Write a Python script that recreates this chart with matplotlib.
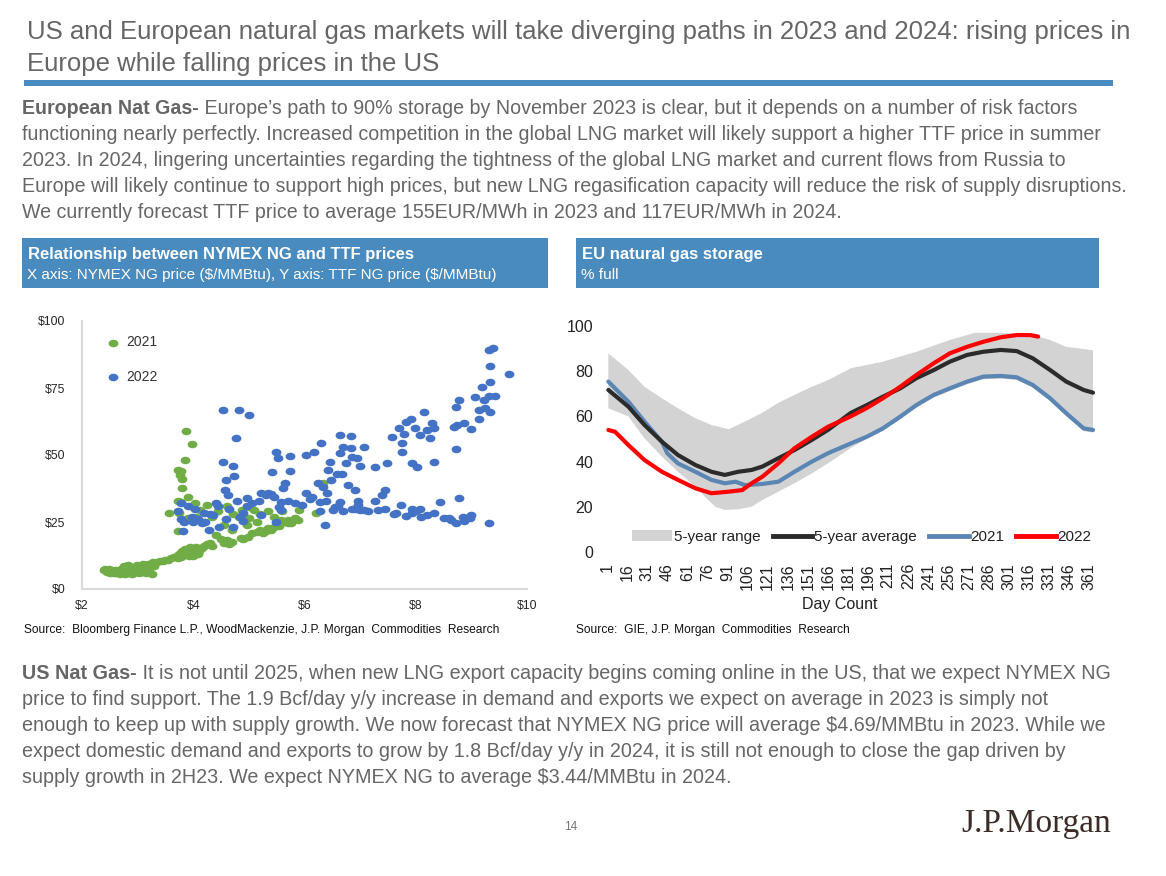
import matplotlib
matplotlib.use("Agg")
import matplotlib.pyplot as plt
from matplotlib import font_manager
from matplotlib.patches import Rectangle, Patch
from matplotlib.lines import Line2D
from matplotlib.path import Path
import numpy as np

# ---------------- data ----------------
green_x = [2.40, 2.42, 2.45, 2.48, 2.50, 2.52, 2.55, 2.58, 2.60, 2.62, 2.65, 2.68, 2.70, 2.72, 2.75, 2.78,
           2.80, 2.82, 2.85, 2.88, 2.90, 2.92, 2.95, 2.98, 3.00, 3.02, 3.05, 3.08, 3.10, 3.12, 3.15, 3.18,
           3.20, 3.25, 3.28, 3.30,
           3.35, 3.40, 3.45, 3.50, 3.55, 3.60, 3.65, 3.70, 3.72, 3.75, 3.78, 3.80, 3.82, 3.85, 3.88, 3.90,
           3.92, 3.95, 3.98, 4.00, 4.02, 4.05, 4.08, 4.10, 4.15, 4.20, 4.25, 4.30, 4.33,
           4.50, 4.55, 4.60, 4.65, 4.70, 4.85, 4.90, 4.98, 5.05, 5.14, 5.20, 5.25, 5.30, 5.35, 5.40, 5.45,
           5.50, 5.55, 5.65, 5.71, 5.75, 5.83, 5.88,
           3.87, 3.97, 3.85, 3.72, 3.78, 3.76, 3.80, 3.80, 3.90, 3.72, 3.78, 3.57, 3.74, 3.72, 3.95, 4.03,
           4.12, 4.25, 4.34, 4.45, 4.60, 4.72, 4.83, 4.96, 4.87, 5.00, 5.10, 5.20, 5.34, 5.46, 5.58, 5.71,
           5.60, 5.90, 6.20, 6.33, 5.00, 5.15, 4.20, 4.05, 3.90, 4.55, 4.70, 4.40]
green_y = [7.0, 7.6, 6.2, 7.3, 6.0, 7.0, 6.5, 5.8, 7.2, 6.0, 6.8, 5.5, 7.5, 6.3, 8.5, 5.6,
           7.0, 8.8, 6.0, 7.8, 5.5, 8.2, 6.5, 9.0, 7.2, 5.8, 8.6, 6.3, 9.2, 7.0, 5.9, 9.5,
           7.5, 5.6, 10.0, 8.5,
           10.2, 10.6, 10.4, 11.0, 10.8, 11.5, 11.8, 12.5, 11.6, 13.0, 12.0, 14.0, 12.8, 15.0, 13.5, 14.5,
           12.2, 15.5, 13.8, 12.5, 14.8, 15.8, 13.0, 14.2, 15.2, 16.0, 16.8, 17.2, 16.0,
           18.5, 17.0, 18.3, 16.8, 17.6, 19.0, 18.6, 19.5, 21.0, 21.4, 22.0, 20.8, 21.5, 22.6, 22.0, 23.0,
           24.0, 23.5, 25.0, 25.7, 24.5, 26.4, 25.8,
           59.0, 54.2, 48.0, 44.5, 44.0, 42.5, 41.0, 37.6, 34.5, 33.0, 32.5, 28.3, 28.5, 21.5, 31.0, 32.0,
           29.5, 31.5, 27.0, 29.0, 31.0, 28.0, 27.0, 24.0, 29.5, 30.5, 29.5, 28.0, 29.0, 27.0, 25.8, 24.6,
           29.0, 29.5, 28.3, 39.7, 26.5, 25.0, 25.0, 27.0, 26.5, 24.0, 22.0, 20.0]

blue_x = [4.53, 4.82, 5.01, 4.76, 4.53, 4.71, 4.73, 4.58, 4.57, 4.62, 4.78, 4.96, 4.40, 3.78, 3.91, 4.03,
          3.72, 3.78, 3.84, 3.97, 4.09, 4.22, 4.28, 3.81, 4.47, 4.59, 4.71, 4.84, 4.96, 5.18, 5.21, 5.34,
          5.46, 5.58, 5.71, 5.83, 6.02, 6.14, 6.27, 6.39, 5.58, 5.49, 5.21, 5.42, 5.52, 5.49, 5.74, 5.74,
          5.65, 5.61, 6.02, 6.17, 6.30, 6.24, 6.33, 6.45, 6.43, 6.48, 6.58, 6.64, 6.70, 6.64, 6.74, 6.68,
          6.83, 6.83, 6.86, 6.95, 6.99, 7.07, 6.79, 6.91, 6.97, 6.97, 6.64, 6.51, 6.27, 6.36, 6.70, 6.85,
          7.07, 7.27, 7.27, 7.48, 7.45, 7.39, 7.33, 7.45, 7.64, 7.73, 7.82, 7.94, 8.07, 7.94, 8.10, 8.32,
          8.43, 8.50, 8.63, 8.72, 8.78, 8.87, 8.97, 9.31, 7.57, 7.70, 7.79, 7.76, 7.76, 7.92, 7.82, 7.98,
          7.94, 8.03, 8.14, 8.07, 8.20, 8.29, 8.32, 8.26, 8.32, 8.72, 8.78, 8.69, 8.75, 8.87, 8.72, 9.00,
          9.06, 9.19, 9.22, 9.13, 9.13, 9.25, 9.34, 9.31, 9.34, 9.34, 9.31, 9.38, 9.68, 9.43,
          4.15, 4.30, 4.45, 4.65, 4.90, 5.05, 5.30, 5.55, 5.95, 6.10, 6.55, 7.15, 7.60, 8.00, 8.20, 8.60,
          8.85, 9.00, 4.00, 4.20, 4.35, 4.90, 5.40, 6.90, 7.00, 6.60, 6.40]
blue_y = [66.7, 66.7, 64.8, 56.2, 47.5, 46.0, 42.3, 40.7, 37.0, 35.0, 33.0, 34.0, 32.0, 32.0, 31.0, 30.0,
          29.0, 26.0, 25.0, 27.0, 26.0, 25.0, 22.0, 21.5, 23.0, 26.0, 23.0, 27.0, 31.0, 33.0, 36.0, 36.0,
          34.5, 32.6, 33.0, 32.0, 36.0, 34.5, 32.6, 33.0, 29.5, 25.0, 27.7, 43.8, 48.8, 51.0, 49.6, 44.0,
          39.5, 37.6, 50.0, 51.0, 54.6, 39.7, 38.0, 47.5, 44.4, 40.7, 43.0, 57.4, 53.0, 50.6, 47.0, 43.0,
          57.0, 52.5, 49.4, 48.8, 46.0, 53.0, 38.8, 37.0, 33.0, 31.4, 32.6, 29.5, 29.0, 24.0, 29.0, 30.0,
          29.3, 33.0, 45.6, 47.0, 37.0, 35.0, 29.5, 29.8, 28.3, 31.4, 27.3, 29.8, 30.0, 28.3, 27.0, 28.3,
          32.6, 26.4, 25.8, 24.6, 33.9, 25.2, 26.4, 24.8, 56.8, 59.9, 58.0, 54.3, 51.2, 63.6, 62.4, 59.9,
          46.9, 45.7, 66.1, 57.4, 59.3, 61.8, 59.9, 56.2, 47.5, 68.0, 70.5, 60.5, 61.2, 61.8, 52.4, 59.6,
          71.7, 75.2, 70.5, 66.7, 63.6, 67.4, 66.1, 72.0, 77.3, 83.2, 89.1, 90.0, 80.1, 72.0,
          24.5, 28.0, 31.0, 30.0, 28.5, 32.0, 35.0, 30.5, 31.5, 33.5, 30.5, 29.0, 28.0, 29.0, 27.5, 26.5,
          27.0, 27.5, 25.0, 28.5, 27.5, 25.5, 35.5, 30.0, 29.5, 31.0, 36.0]

# EU storage (% full) by day count
top_days = [2, 17, 29, 42, 54, 67, 79, 92, 104, 117, 129, 141, 154, 166, 183, 207, 232, 257, 276, 295,
            319, 332, 344, 362, 364]
range_high = [87.9, 80.5, 73.1, 68, 63.6, 59.2, 56.2, 54.3, 57.7, 61.6, 66, 69.5, 73.1, 76, 81.3, 84.2,
              88.6, 93.8, 97, 97, 96, 93.8, 90.8, 89.4, 89.2]
low_days = [2, 17, 29, 42, 54, 67, 74, 82, 89, 99, 109, 117, 129, 141, 154, 166, 183, 195, 207, 220,
            232, 245, 257, 270, 282, 295, 307, 319, 332, 344, 357, 364]
range_low = [63.6, 60, 50.3, 42.2, 35.5, 28.9, 24.5, 20, 18.6, 18.9, 20, 23, 26.7, 30.4, 34.8, 39.2,
             46, 50, 53.5, 58.7, 63.8, 68.3, 71.2, 74.2, 76.4, 76.7, 76.1, 72.7, 66.8, 60.2, 53.5, 52.8]
avg_days = [2, 17, 29, 42, 54, 67, 79, 89, 99, 109, 117, 129, 141, 154, 166, 183, 195, 207, 220, 232,
            245, 257, 270, 282, 295, 307, 319, 332, 344, 357, 364]
avg_5y = [71.7, 64.3, 56.2, 48.8, 42.9, 38.5, 35.5, 34.1, 35.5, 36.3, 37.8, 41.5, 45.1, 49.6, 54, 61.5,
          65, 68.7, 72.4, 76.9, 80.5, 84.2, 87.2, 88.6, 89.4, 88.9, 85.7, 80.5, 75.4, 71.7, 70.5]
days_2021 = [2, 17, 29, 42, 46, 54, 67, 79, 89, 97, 104, 117, 129, 141, 154, 166, 183, 195, 207, 220,
             232, 245, 257, 270, 282, 295, 307, 319, 332, 344, 357, 364]
s2021 = [75.4, 66.5, 57.7, 48.8, 43.7, 39.2, 35.5, 31.9, 30.4, 31.1, 29.6, 30.1, 31.1, 35.5, 40, 43.7,
         48, 51, 54.7, 59.9, 65, 69.5, 72.4, 75.4, 77.6, 77.9, 77.3, 73.9, 68, 61.4, 54.7, 54]
days_2022 = [2, 7, 17, 29, 42, 54, 67, 79, 92, 102, 109, 117, 129, 141, 154, 166, 183, 195, 207, 220,
             232, 245, 257, 270, 282, 295, 307, 317, 323]
s2022 = [54, 53.2, 47.3, 40.7, 35.5, 31.9, 28.2, 26, 26.7, 27.4, 30.4, 33.3, 39.2, 45.9, 51, 55.4, 60,
         63.7, 68, 73.1, 78.3, 83.5, 87.9, 90.8, 93, 95, 96, 96, 95.3]
day_ticks = list(range(1, 362, 15))

scatter_xticks = [2, 4, 6, 8, 10]
scatter_yticks = [0, 25, 50, 75, 100]
storage_yticks = [0, 20, 40, 60, 80, 100]

title_lines = ["US and European natural gas markets will take diverging paths in 2023 and 2024: rising prices in",
               "Europe while falling prices in the US"]
para1 = [("European Nat Gas-", " Europe\u2019s path to 90% storage by November 2023 is clear, but it depends on a number of risk factors"),
         ("", "functioning nearly perfectly. Increased competition in the global LNG market will likely support a higher TTF price in summer"),
         ("", "2023. In 2024, lingering uncertainties regarding the tightness of the global LNG market and current flows from Russia to"),
         ("", "Europe will likely continue to support high prices, but new LNG regasification capacity will reduce the risk of supply disruptions."),
         ("", "We currently forecast TTF price to average 155EUR/MWh in 2023 and 117EUR/MWh in 2024.")]
para2 = [("US Nat Gas-", " It is not until 2025, when new LNG export capacity begins coming online in the US, that we expect NYMEX NG"),
         ("", "price to find support. The 1.9 Bcf/day y/y increase in demand and exports we expect on average in 2023 is simply not"),
         ("", "enough to keep up with supply growth. We now forecast that NYMEX NG price will average \\$4.69/MMBtu in 2023. While we"),
         ("", "expect domestic demand and exports to grow by 1.8 Bcf/day y/y in 2024, it is still not enough to close the gap driven by"),
         ("", "supply growth in 2H23. We expect NYMEX NG to average \\$3.44/MMBtu in 2024.")]

# ---------------- style ----------------
names = {f.name for f in font_manager.fontManager.ttflist}
SANS = ['Liberation Sans', 'DejaVu Sans']
NARROW = ['Liberation Sans Narrow', 'Liberation Sans', 'DejaVu Sans'] if 'Liberation Sans Narrow' in names else SANS
plt.rcParams['font.family'] = SANS

W, H = 1166, 876
fig = plt.figure(figsize=(W / 100, H / 100), dpi=100)
renderer = fig.canvas.get_renderer()

def fx(x): return x / W
def fy(y): return 1 - y / H

GRAY = '#666666'
BLUE_BOX = '#4a8bbf'

# title
for i, t in enumerate(title_lines):
    fig.text(fx(27), fy(39 + 32 * i), t, fontsize=18.55, color=GRAY, va='baseline')

fig.add_artist(Rectangle((fx(24), fy(86)), fx(1113) - fx(24), 6 / H, transform=fig.transFigure,
                         color=BLUE_BOX, lw=0))

def paragraph(lines, x, y0, dy, size):
    for i, (b, r) in enumerate(lines):
        y = fy(y0 + dy * i)
        xx = fx(x)
        if b:
            t = fig.text(xx, y, b, fontsize=size, color=GRAY, weight='bold', va='baseline')
            bb = t.get_window_extent(renderer)
            xx = bb.x1 / W
        fig.text(xx, y, r, fontsize=size, color=GRAY, va='baseline')

paragraph(para1, 22, 114, 25.9, 14.1)
paragraph(para2, 22, 679, 26.0, 14.22)

# header boxes
for (x0, x1, t1, t2) in [(22, 548, "Relationship between NYMEX NG and TTF prices",
                          "X axis: NYMEX NG price (\\$/MMBtu), Y axis: TTF NG price (\\$/MMBtu)"),
                         (576, 1099, "EU natural gas storage", "% full")]:
    fig.add_artist(Rectangle((fx(x0), fy(288)), (x1 - x0) / W, 50 / H, transform=fig.transFigure,
                             color=BLUE_BOX, lw=0))
    fig.text(fx(x0 + 6), fy(259), t1, fontsize=12, color='white', weight='bold', va='baseline')
    fig.text(fx(x0 + 5), fy(279), t2, fontsize=10.95, color='white', va='baseline')

# ---------------- scatter ----------------
ax1 = fig.add_axes([fx(82), fy(589), (527 - 82) / W, (589 - 321) / H])
circ = Path.unit_circle()
ell = Path(circ.vertices * np.array([1.3, 1.0]), circ.codes)
ax1.scatter(green_x, green_y, s=50, marker=ell, color='#70ad47', lw=0, label='2021', zorder=2)
ax1.scatter(blue_x, blue_y, s=50, marker=ell, color='#4472c4', lw=0, label='2022', zorder=3)
ax1.set_xlim(2, 10)
ax1.set_ylim(0, 100)
ax1.set_xticks(scatter_xticks)
ax1.set_xticklabels(['\\$%d' % v for v in scatter_xticks])
ax1.set_yticks(scatter_yticks)
ax1.set_yticklabels(['\\$%d' % v for v in scatter_yticks])
ax1.tick_params(length=0, labelsize=8.8, colors='#262626', pad=8)
ax1.tick_params(axis='y', pad=12)
for s in ['top', 'right']:
    ax1.spines[s].set_visible(False)
for s in ['left', 'bottom']:
    ax1.spines[s].set_color('#d9d9d9')
    ax1.spines[s].set_linewidth(1.5)
ax1.patch.set_alpha(0)
leg1 = ax1.legend(loc='upper left', bbox_to_anchor=(0.022, 0.972), frameon=False, fontsize=10,
                  labelspacing=1.45, handletextpad=0.0, borderpad=0, markerscale=1.0)
for t in leg1.get_texts():
    t.set_color('#333333')

# ---------------- storage lines ----------------
ppd = (1089 - 607) / 360.0
left_px = 607 - 4 * ppd
right_px = 607 + 369 * ppd
ax2 = fig.add_axes([fx(left_px), fy(552), (right_px - left_px) / W, (552 - 326) / H])
ax2.fill(top_days + low_days[::-1], range_high + range_low[::-1], color='#d3d3d3', lw=0, zorder=1)
ax2.plot(avg_days, avg_5y, color='#2b2b2b', lw=3, zorder=3, solid_capstyle='round')
ax2.plot(days_2021, s2021, color='#5b86b3', lw=3, zorder=2, solid_capstyle='round')
ax2.plot(days_2022, s2022, color='#ff0000', lw=3, zorder=4, solid_capstyle='round')
ax2.set_xlim(-3, 370)
ax2.set_ylim(0, 100)
ax2.set_xticks(day_ticks)
ax2.set_xticklabels([str(d) for d in day_ticks], rotation=90, fontfamily=NARROW, fontsize=11.5)
ax2.set_yticks(storage_yticks)
ax2.set_yticklabels([str(v) for v in storage_yticks], fontfamily=NARROW, fontsize=11.5)
ax2.tick_params(length=0, colors='#222222')
ax2.tick_params(axis='x', pad=8)
ax2.tick_params(axis='y', pad=6)
for s in ax2.spines.values():
    s.set_visible(False)
ax2.patch.set_alpha(0)
handles = [Patch(color='#d3d3d3', lw=0),
           Line2D([], [], color='#2b2b2b', lw=3.5),
           Line2D([], [], color='#5b86b3', lw=3.5),
           Line2D([], [], color='#ff0000', lw=3.5)]
leg2 = fig.legend(handles, ['5-year range', '5-year average', '2021', '2022'], loc='center',
                  bbox_to_anchor=(fx(862), fy(537)), ncol=4, frameon=False,
                  prop={'family': NARROW, 'size': 11}, handlelength=2.6, handletextpad=0.1,
                  columnspacing=0.8, borderpad=0)
for t in leg2.get_texts():
    t.set_color('#222222')
fig.text(fx(840), fy(605), "Day Count", fontfamily=NARROW, fontsize=11.5, color='#222222',
         ha='center', va='center')

# sources and footer
fig.text(fx(24), fy(633), "Source:  Bloomberg Finance L.P., WoodMackenzie, J.P. Morgan  Commodities  Research",
         fontsize=8.63, color='#111111', va='baseline')
fig.text(fx(576), fy(633), "Source:  GIE, J.P. Morgan  Commodities  Research",
         fontsize=8.63, color='#111111', va='baseline')
fig.text(fx(571), fy(827), "14", fontsize=8.5, color='#777777', ha='center', va='center')
fig.text(fx(1036), fy(824), "J.P.Morgan", fontfamily=['Liberation Serif', 'DejaVu Serif'],
         fontsize=24, color='#3b2c27', ha='center', va='center')

fig.savefig('out.png', dpi=100)
